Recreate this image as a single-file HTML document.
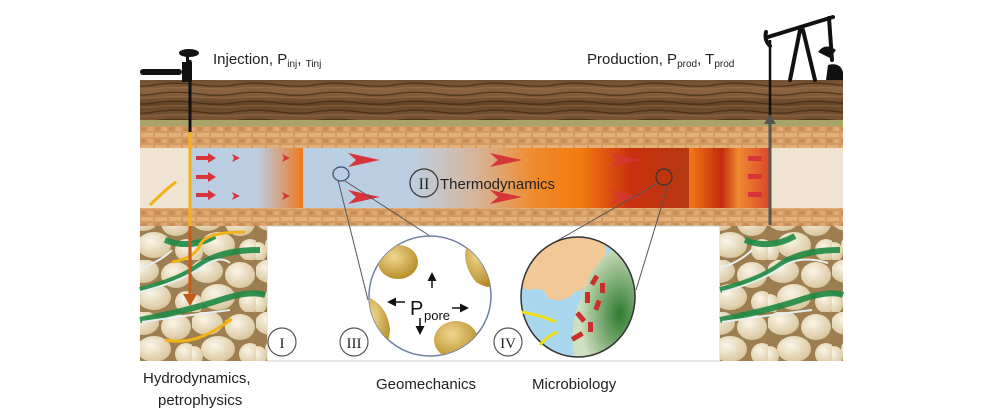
<!DOCTYPE html>
<html><head><meta charset="utf-8"><style>
html,body{margin:0;padding:0;background:#fff;}
svg{display:block;font-family:"Liberation Sans","DejaVu Sans",sans-serif;}
</style></head><body>
<svg width="986" height="416" viewBox="0 0 986 416" xmlns="http://www.w3.org/2000/svg">
<defs>
  <linearGradient id="wood" x1="0" y1="0" x2="0" y2="1">
    <stop offset="0" stop-color="#6e4e30"/><stop offset="0.3" stop-color="#8a6240"/>
    <stop offset="0.6" stop-color="#654528"/><stop offset="1" stop-color="#7a5636"/>
  </linearGradient>
  <pattern id="woodlines" width="80" height="9" patternUnits="userSpaceOnUse">
    <path d="M0 3 Q20 1 40 4 T80 3" stroke="#3a2612" stroke-width="1.3" fill="none"/>
    <path d="M0 7 Q25 6 50 7.5 T80 7" stroke="#b08660" stroke-width="1" fill="none" opacity="0.6"/>
  </pattern>
  <pattern id="brick" width="14" height="12" patternUnits="userSpaceOnUse">
    <rect width="14" height="12" fill="#d39a62"/>
    <rect x="1" y="1" width="12" height="4" fill="#e3b07a"/>
    <rect x="1" y="7" width="5" height="4" fill="#c98c55"/>
    <rect x="8" y="7" width="5" height="4" fill="#e0aa72"/>
  </pattern>
  <linearGradient id="res1" x1="0" y1="0" x2="1" y2="0">
    <stop offset="0" stop-color="#b9cde2"/><stop offset="0.6" stop-color="#bccde0"/>
    <stop offset="0.85" stop-color="#d99a6c"/><stop offset="1" stop-color="#f07a1a"/>
  </linearGradient>
  <linearGradient id="res2" x1="0" y1="0" x2="1" y2="0">
    <stop offset="0" stop-color="#b9cde2"/><stop offset="0.28" stop-color="#bccfe2"/>
    <stop offset="0.45" stop-color="#d6b49a"/><stop offset="0.6" stop-color="#f08a2a"/>
    <stop offset="0.72" stop-color="#f27a10"/><stop offset="0.85" stop-color="#c9300e"/>
    <stop offset="1" stop-color="#b43a10"/>
  </linearGradient>
  <linearGradient id="res3" x1="0" y1="0" x2="1" y2="0">
    <stop offset="0" stop-color="#f07a18"/><stop offset="0.4" stop-color="#c42a0a"/>
    <stop offset="0.6" stop-color="#f08a30"/><stop offset="1" stop-color="#d7442a"/>
  </linearGradient>
  <radialGradient id="g1" cx="0.4" cy="0.35" r="0.7">
    <stop offset="0" stop-color="#fbf6e8"/><stop offset="1" stop-color="#d6c39a"/>
  </radialGradient>
  <pattern id="grains" width="64" height="52" patternUnits="userSpaceOnUse">
    <rect width="64" height="52" fill="#9c7e50"/>
    <ellipse cx="15" cy="11" rx="16" ry="12" fill="url(#g1)"/>
    <ellipse cx="48" cy="15" rx="15" ry="13" fill="url(#g1)"/>
    <ellipse cx="26" cy="37" rx="17" ry="13" fill="url(#g1)"/>
    <ellipse cx="58" cy="42" rx="11" ry="11" fill="url(#g1)"/>
    <ellipse cx="2" cy="44" rx="9" ry="10" fill="url(#g1)"/>
  </pattern>
  <radialGradient id="grain" cx="0.4" cy="0.35" r="0.7">
    <stop offset="0" stop-color="#f1d890"/><stop offset="1" stop-color="#b38a25"/>
  </radialGradient>
  <radialGradient id="bio" cx="0.7" cy="0.6" r="0.6">
    <stop offset="0" stop-color="#2f7a30"/><stop offset="1" stop-color="#cfe0c0"/>
  </radialGradient>
  <marker id="ah" markerWidth="6" markerHeight="6" refX="4" refY="3" orient="auto"><path d="M0 0 L6 3 L0 6z" fill="#111"/></marker>
  <clipPath id="c3"><ellipse cx="430" cy="296" rx="61" ry="60"/></clipPath>
  <clipPath id="c4"><ellipse cx="578" cy="297" rx="57" ry="60"/></clipPath>
</defs>

<!-- top wood -->
<rect x="140" y="80" width="703" height="40" fill="url(#wood)"/>
<rect x="140" y="80" width="703" height="40" fill="url(#woodlines)" opacity="0.7"/>
<rect x="140" y="120" width="703" height="6" fill="#a9a56a"/>
<!-- brick bands -->
<rect x="140" y="126" width="703" height="22" fill="url(#brick)"/>
<rect x="140" y="208" width="703" height="18" fill="url(#brick)"/>
<!-- reservoir -->
<rect x="140" y="148" width="50" height="60" fill="#efe4d2"/>
<rect x="190" y="148" width="113" height="60" fill="url(#res1)"/>
<rect x="303" y="148" width="386" height="60" fill="url(#res2)"/>
<rect x="689" y="148" width="82" height="60" fill="url(#res3)"/>
<rect x="771" y="148" width="72" height="60" fill="#efe4d2"/>
<path d="M150 205 Q165 190 176 182" stroke="#f2b21a" stroke-width="3" fill="none"/>
<!-- red chevrons -->
<g fill="#d7353a">
  <path d="M196 156h12v-3l8 5-8 5v-3h-12z"/><path d="M196 175h12v-3l8 5-8 5v-3h-12z"/><path d="M196 193h12v-3l8 5-8 5v-3h-12z"/>
  <path d="M232 154l8 4-8 4 2-4z"/><path d="M232 192l8 4-8 4 2-4z"/>
  <path d="M282 154l8 4-8 4 2-4z"/><path d="M282 192l8 4-8 4 2-4z"/>
  <path d="M348 153l32 7-32 7 8-7z"/><path d="M348 190l32 7-32 7 8-7z"/>
  <path d="M490 153l32 7-32 7 8-7z"/><path d="M490 190l32 7-32 7 8-7z"/>
  <path d="M610 153l32 7-32 7 8-7z" opacity="0.7"/><path d="M610 190l32 7-32 7 8-7z" opacity="0.7"/>
  <path d="M748 156h14v5h-14z"/><path d="M748 174h14v5h-14z"/><path d="M748 192h14v5h-14z"/>
</g>
<ellipse cx="341" cy="174" rx="8" ry="7" fill="none" stroke="#3c4a70" stroke-width="1.2"/>
<ellipse cx="664" cy="177" rx="8" ry="8" fill="none" stroke="#333" stroke-width="1.2"/>
<circle cx="424" cy="183" r="14" fill="none" stroke="#333" stroke-width="1.2"/>
<text x="424" y="189" font-family="Liberation Serif,serif" font-size="16" text-anchor="middle" fill="#222">II</text>
<text x="440" y="189" font-size="15" fill="#222">Thermodynamics</text>

<!-- lower panel -->
<rect x="267" y="226" width="453" height="135" fill="#fff" stroke="#ccc"/>
<rect x="140" y="226" width="127" height="135" fill="url(#grains)"/>
<rect x="720" y="226" width="123" height="135" fill="url(#grains)"/>
<g stroke="#1f8a45" stroke-width="6" fill="none" opacity="0.9">
  <path d="M140 290 Q180 280 200 265 T260 250"/><path d="M140 320 Q190 310 220 300 T265 295"/><path d="M165 240 Q190 250 215 236"/>
  <path d="M720 290 Q760 280 780 265 T840 250"/><path d="M720 320 Q770 310 800 300 T843 295"/><path d="M745 240 Q770 250 795 236"/>
</g>
<g stroke="#e8eef0" stroke-width="2" fill="none">
  <path d="M140 292 Q180 282 200 268 T230 263"/><path d="M142 322 Q190 315 230 310"/><path d="M140 268 Q160 262 172 250"/>
  <path d="M722 292 Q760 282 780 268 T828 263"/><path d="M722 322 Q770 315 812 310"/><path d="M720 268 Q740 262 752 250"/>
</g>
<g stroke="#f2b21a" stroke-width="3" fill="none">
  <path d="M172 262 Q195 258 200 245 T245 232"/><path d="M165 340 Q190 345 215 330 T225 322"/>
</g>
<!-- connector lines -->
<g stroke="#555" stroke-width="1" fill="none">
  <line x1="338" y1="180" x2="368" y2="300"/><line x1="345" y1="181" x2="430" y2="236"/>
  <line x1="658" y1="183" x2="548" y2="246"/><line x1="668" y1="185" x2="636" y2="290"/>
</g>
<!-- circle III -->
<ellipse cx="430" cy="296" rx="61" ry="60" fill="#fff" stroke="#7080a0" stroke-width="1.5"/>
<g clip-path="url(#c3)" fill="url(#grain)">
  <ellipse cx="398" cy="262" rx="20" ry="17"/>
  <path d="M470 238 Q458 260 476 282 Q488 290 495 285 L495 236z"/>
  <path d="M366 296 Q388 305 390 330 Q388 350 380 356 L360 356 L360 296z"/>
  <ellipse cx="456" cy="340" rx="22" ry="19"/>
</g>
<g stroke="#111" stroke-width="1.5" marker-end="url(#ah)">
  <line x1="432" y1="288" x2="432" y2="275"/><line x1="405" y1="302" x2="390" y2="302"/>
  <line x1="452" y1="308" x2="466" y2="308"/><line x1="420" y1="318" x2="420" y2="332"/>
</g>
<text x="410" y="315" font-size="20" fill="#111">P</text>
<text x="424" y="320" font-size="13" fill="#111">pore</text>
<!-- circle IV -->
<ellipse cx="578" cy="297" rx="57" ry="60" fill="#a9d8ee"/>
<g clip-path="url(#c4)">
  <path d="M520 235 H602 Q610 255 600 272 Q588 290 575 292 Q563 305 548 298 Q543 286 532 290 L520 288z" fill="#f2c996"/>
  <path d="M590 275 Q605 250 625 245 L640 250 L640 360 L575 360 Q568 330 580 300z" fill="url(#bio)"/>
  <path d="M622 240 Q635 245 640 260 L640 240z" fill="#f2c996"/>
  <g fill="#c9302c">
    <rect x="592" y="275" width="5" height="10" transform="rotate(30 594 280)"/><rect x="585" y="292" width="5" height="11"/>
    <rect x="578" y="312" width="5" height="11" transform="rotate(-40 580 317)"/><rect x="588" y="322" width="5" height="10"/>
    <rect x="575" y="330" width="5" height="12" transform="rotate(60 577 336)"/><rect x="595" y="300" width="5" height="10" transform="rotate(20 597 305)"/>
    <rect x="600" y="283" width="5" height="10"/>
  </g>
</g>
<ellipse cx="578" cy="297" rx="57" ry="60" fill="none" stroke="#333" stroke-width="1.5"/>
<g stroke="#f0e01a" stroke-width="3" fill="none"><path d="M522 312 Q540 315 556 322"/><path d="M540 345 Q548 335 558 332"/></g>
<!-- roman circles -->
<g fill="#fff" stroke="#555" stroke-width="1.2">
  <circle cx="282" cy="342" r="14"/><circle cx="354" cy="342" r="14"/><circle cx="508" cy="342" r="14"/>
</g>
<g font-family="Liberation Serif,serif" font-size="15" fill="#222" text-anchor="middle">
  <text x="282" y="348">I</text><text x="354" y="348">III</text><text x="508" y="348">IV</text>
</g>
<!-- injection well -->
<line x1="190" y1="60" x2="190" y2="148" stroke="#111" stroke-width="3"/>
<line x1="190" y1="132" x2="190" y2="300" stroke="#f2b21a" stroke-width="3"/>
<line x1="190" y1="226" x2="190" y2="296" stroke="#c85a18" stroke-width="3"/>
<path d="M183 294 L197 294 L190 306z" fill="#c85a18"/>
<rect x="140" y="69" width="42" height="6" rx="3" fill="#111"/>
<rect x="182" y="62" width="10" height="20" fill="#111"/>
<rect x="186" y="53" width="3" height="10" fill="#111"/>
<ellipse cx="189" cy="53" rx="10" ry="4" fill="#111"/>
<text x="213" y="64" font-size="15" fill="#222">Injection, P<tspan font-size="10" dy="3">inj</tspan><tspan dy="-3">, </tspan><tspan font-size="10" dy="3">Tinj</tspan></text>
<!-- production well -->
<line x1="770" y1="40" x2="770" y2="148" stroke="#111" stroke-width="2.5"/>
<line x1="770" y1="120" x2="770" y2="225" stroke="#555" stroke-width="3"/>
<path d="M764 124 L776 124 L770 114z" fill="#555"/>
<g stroke="#111" stroke-width="4" fill="none" stroke-linecap="round">
  <path d="M766 32 Q764 40 770 46"/><line x1="768" y1="37" x2="833" y2="17"/>
  <line x1="800" y1="30" x2="790" y2="80"/><line x1="803" y1="30" x2="815" y2="80"/>
  <line x1="829" y1="18" x2="832" y2="60"/>
</g>
<path d="M818 52 Q825 42 836 50 L830 58z" fill="#111"/>
<path d="M828 65 Q840 62 843 72 L843 80 L826 80z" fill="#111"/>
<text x="587" y="64" font-size="15" fill="#222">Production, P<tspan font-size="10" dy="3">prod</tspan><tspan dy="-3">, T</tspan><tspan font-size="10" dy="3">prod</tspan></text>
<!-- bottom labels -->
<g font-size="15" fill="#222">
  <text x="143" y="383">Hydrodynamics,</text>
  <text x="158" y="405">petrophysics</text>
  <text x="376" y="389">Geomechanics</text>
  <text x="532" y="389">Microbiology</text>
</g>
</svg>
</body></html>
